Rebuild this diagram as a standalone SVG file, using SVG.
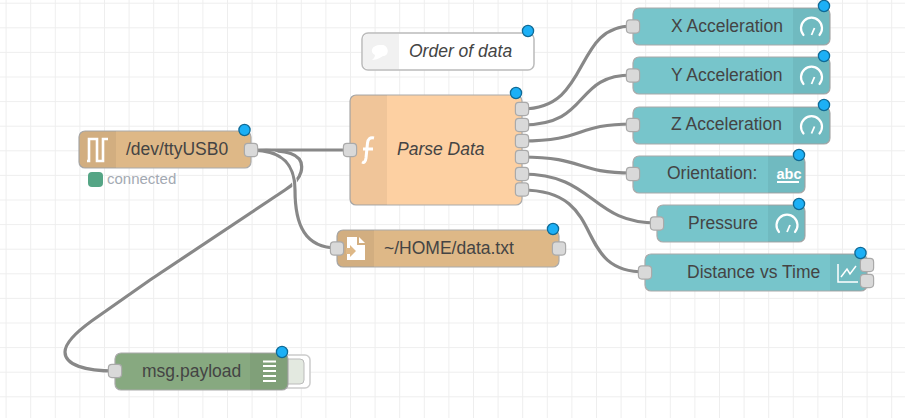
<svg xmlns="http://www.w3.org/2000/svg" width="905" height="418" viewBox="0 0 905 418">
<defs>
<style>
.n{stroke:#aaa;stroke-width:1.2}
.burly{fill:#deb887}.func{fill:#fdd0a2}.dash{fill:#77c5cb}.dbg{fill:#87a980}.cmt{fill:#fff;stroke:#bbb;stroke-width:1.5}
.shade{fill:#000;fill-opacity:.05}
.port{fill:#d9d9d9;stroke:#aaa;stroke-width:1.2}
.badge{fill:#1cb0f6;stroke:#0f6a96;stroke-width:1.3}
text{font-family:"Liberation Sans",Arial,sans-serif;font-size:17.5px;fill:#444}
.i{font-style:italic}
.ic{fill:none;stroke:#fff;stroke-width:2.2}
.o{fill:none;stroke:#fff;stroke-width:5}
.w{fill:none;stroke:#888;stroke-width:3.2}
</style>
<pattern id="grid" width="24.6" height="24.6" patternUnits="userSpaceOnUse" x="5.6" y="2.7">
<path d="M0,0H24.6M0,0V24.6" fill="none" stroke="#eee" stroke-width="2"/>
</pattern>
<g id="gauge"><path class="ic" d="M-8,7A10.500,10.500 0 1 1 8,7" stroke-linecap="round"/><path class="ic" d="M0,7L3,0" style="stroke-width:1.800"/></g>
<rect id="p" class="port" x="-6.600" y="-6.600" width="13.200" height="13.200" rx="3.500"/>
<circle id="b" class="badge" r="5.600"/>
</defs>
<rect width="905" height="418" fill="#fff"/>
<rect width="905" height="418" fill="url(#grid)"/>
<g id="connectors">
<path class="o" d="M251,150C285,150 306,152 301,172C299,180 293,185 285,190L150,280L93,320C72,335 65,345 65,352C65,365 85,371 115,371"/>
<path class="w" d="M251,150C285,150 306,152 301,172C299,180 293,185 285,190L150,280L93,320C72,335 65,345 65,352C65,365 85,371 115,371"/>
<path class="o" d="M251,150C275,150 295,158 295,190C295,225 305,248 337,248"/>
<path class="w" d="M251,150C275,150 295,158 295,190C295,225 305,248 337,248"/>
<path class="w" d="M251,150H350"/>
<path class="w" d="M522,109C592,109 572,26 632,26"/>
<path class="w" d="M522,125C592,125 572,75 632,75"/>
<path class="w" d="M522,141C585,141 575,124 632,124"/>
<path class="w" d="M522,157C585,157 575,173 632,173"/>
<path class="w" d="M522,174C595,174 590,223 657,223"/>
<path class="w" d="M522,190C610,190 570,272 645,272"/>
</g>
<g id="node-serial">
<rect class="n burly" x="79" y="131" width="172" height="37" rx="6"/>
<path class="shade" d="M116,131H85a6,6 0 0 0 -6,6V162a6,6 0 0 0 6,6H116Z"/>
<path class="ic" d="M87,161H89V139H97V161H103V139H108" style="stroke-width:2.600"/>
<use href="#p" x="251" y="150"/><use href="#b" x="244.500" y="130"/>
<text x="126" y="155">/dev/ttyUSB0</text>
<rect x="88" y="172" width="15" height="15" rx="4" fill="#55a585"/>
<text x="107" y="184" style="font-size:15px;fill:#a3a9b2">connected</text>
</g>
<g id="node-comment">
<rect class="cmt" x="362" y="33" width="172" height="37" rx="6"/>
<path fill="#f1f1f1" d="M399,34H368a5,5 0 0 0 -5,5V64a5,5 0 0 0 5,5H399Z"/>
<path fill="#fff" d="M380,45H382C389,45 390,56 383,56C378,59 375,60 372,60C374,58 375,57 375,55C369,52 372,45 380,45Z"/>
<use href="#b" x="528" y="31"/>
<text class="i" x="409" y="57">Order of data</text>
</g>
<g id="node-function">
<rect class="n func" x="350" y="95" width="172" height="110" rx="6"/>
<path class="shade" d="M387,95H356a6,6 0 0 0 -6,6V199a6,6 0 0 0 6,6H387Z"/>
<path class="ic" d="M374,138C370,137 368,139 367.500,143L366,158C365.500,162 364,163 362,162M363,149H373" style="stroke-width:3"/>
<use href="#p" x="350" y="150"/>
<use href="#p" x="522" y="109"/><use href="#p" x="522" y="125"/><use href="#p" x="522" y="141"/><use href="#p" x="522" y="157"/><use href="#p" x="522" y="174"/><use href="#p" x="522" y="189.500"/>
<use href="#b" x="516" y="93"/>
<text class="i" x="397" y="155">Parse Data</text>
</g>
<g id="node-x">
<rect class="n dash" x="633" y="8" width="197" height="37" rx="6"/>
<path class="shade" d="M793,8H824a6,6 0 0 1 6,6V39a6,6 0 0 1 -6,6H793Z"/>
<use href="#gauge" x="811.500" y="28"/><use href="#p" x="633" y="26.500"/><use href="#b" x="824" y="6"/>
<text x="671" y="32">X Acceleration</text>
</g>
<g id="node-y">
<rect class="n dash" x="633" y="57" width="197" height="37" rx="6"/>
<path class="shade" d="M793,57H824a6,6 0 0 1 6,6V88a6,6 0 0 1 -6,6H793Z"/>
<use href="#gauge" x="811.500" y="77"/><use href="#p" x="633" y="75.500"/><use href="#b" x="824" y="56"/>
<text x="671" y="81">Y Acceleration</text>
</g>
<g id="node-z">
<rect class="n dash" x="633" y="107" width="197" height="37" rx="6"/>
<path class="shade" d="M793,107H824a6,6 0 0 1 6,6V138a6,6 0 0 1 -6,6H793Z"/>
<use href="#gauge" x="811.500" y="126.500"/><use href="#p" x="633" y="125"/><use href="#b" x="824" y="105"/>
<text x="671" y="130">Z Acceleration</text>
</g>
<g id="node-orientation">
<rect class="n dash" x="633" y="156" width="172" height="37" rx="6"/>
<path class="shade" d="M768,156H799a6,6 0 0 1 6,6V187a6,6 0 0 1 -6,6H768Z"/>
<text x="776.500" y="179" style="font-size:14.500px;font-weight:bold;fill:#fff">abc</text>
<path d="M777,182H799" stroke="#fff" stroke-width="2"/>
<use href="#p" x="633" y="174"/><use href="#b" x="799" y="155"/>
<text x="667" y="179">Orientation:</text>
</g>
<g id="node-pressure">
<rect class="n dash" x="657" y="205" width="148" height="37" rx="6"/>
<path class="shade" d="M768,205H799a6,6 0 0 1 6,6V236a6,6 0 0 1 -6,6H768Z"/>
<use href="#gauge" x="787" y="225"/><use href="#p" x="657" y="223.500"/><use href="#b" x="799" y="204"/>
<text x="688" y="229">Pressure</text>
</g>
<g id="node-chart">
<rect class="n dash" x="645" y="254" width="222" height="37" rx="6"/>
<path class="shade" d="M830,254H861a6,6 0 0 1 6,6V285a6,6 0 0 1 -6,6H830Z"/>
<path class="ic" d="M838,264V282H858M841,277L847,269L850,274L856,266" style="stroke-width:1.500"/>
<use href="#p" x="645" y="272.500"/><use href="#p" x="867" y="265"/><use href="#p" x="867" y="281"/><use href="#b" x="860.500" y="253"/>
<text x="687" y="278">Distance vs Time</text>
</g>
<g id="node-file">
<rect class="n burly" x="337" y="230" width="222" height="37" rx="6"/>
<path class="shade" d="M374,230H343a6,6 0 0 0 -6,6V261a6,6 0 0 0 6,6H374Z"/>
<path fill="#fff" d="M347,237H357V245H365V260H347Z"/>
<path fill="#fff" d="M359,237L365,243H359Z"/>
<path fill="#deb887" d="M347,247H351V244L357,250L351,256V253H347Z" transform="translate(-1,1)"/>
<use href="#p" x="337" y="248.500"/><use href="#p" x="559" y="248.500"/><use href="#b" x="553" y="229"/>
<text x="384" y="254">~/HOME/data.txt</text>
</g>
<g id="node-debug">
<rect x="280" y="355" width="30" height="33" rx="5" fill="#fff" stroke="#ccc" stroke-width="1.500"/>
<rect x="280" y="359" width="24" height="25" rx="4" fill="#e3e9e0" stroke="#bbb" stroke-width="1"/>
<rect class="n dbg" x="115" y="353" width="173" height="37" rx="6"/>
<path class="shade" d="M250,353H282a6,6 0 0 1 6,6V384a6,6 0 0 1 -6,6H250Z"/>
<path d="M263,361.500H276M263,366H276M263,371H276M263,376H276M263,381H276" stroke="#fff" stroke-width="2"/>
<use href="#p" x="115" y="371"/><use href="#b" x="282" y="352"/>
<text x="142" y="377">msg.payload</text>
</g>
</svg>
